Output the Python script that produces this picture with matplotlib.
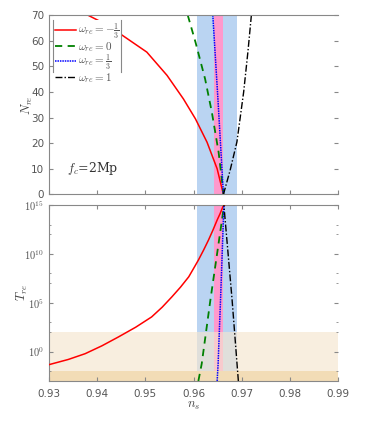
import matplotlib.pyplot as plt
from matplotlib.lines import Line2D

plt.rcParams['mathtext.fontset'] = 'cm'
plt.rcParams['font.family'] = ['DejaVu Sans']

# --- data ---
# top panel: N_re vs n_s
red_ns = [0.9381, 0.9403, 0.9448, 0.9503, 0.9545, 0.9579, 0.9604, 0.9628, 0.9649, 0.9662]
red_N = [70.0, 67.9, 62.7, 55.6, 46.5, 37.3, 29.5, 20.4, 10.0, 0.0]

green_ns = [0.9588, 0.9604, 0.9624, 0.9638, 0.9652, 0.9661, 0.9662]
green_N = [70.0, 59.5, 45.1, 32.1, 16.5, 2.2, 0.0]

blue_ns = [0.9640, 0.9651, 0.9662]
blue_N = [70.0, 36.0, 0.0]

black_ns = [0.9662, 0.9676, 0.9690, 0.9704, 0.9713, 0.9720]
black_N = [0.0, 9.5, 20.5, 40.0, 56.0, 70.0]

# bottom panel: T_re vs n_s (log10 values)
red_T_ns = [0.9300, 0.9340, 0.9375, 0.9410, 0.9444, 0.9480, 0.9513, 0.9535, 0.9555, 0.9573, 0.9590,
            0.9600, 0.9610, 0.9621, 0.9631, 0.9640, 0.9649, 0.9655, 0.9661, 0.9664]
red_logT = [-1.33, -0.80, -0.21, 0.60, 1.50, 2.50, 3.55, 4.55, 5.60, 6.60, 7.65,
            8.50, 9.36, 10.40, 11.41, 12.40, 13.46, 14.10, 14.83, 14.95]

green_T_ns = [0.9610, 0.9617, 0.9635, 0.9659, 0.9663]
green_logT = [-3.0, -1.23, 5.3, 13.46, 14.95]

blue_T_ns = [0.9649, 0.9651, 0.9656, 0.9663]
blue_logT = [-3.0, -1.23, 5.3, 14.95]

black_T_ns = [0.9693, 0.9680, 0.9663]
black_logT = [-3.0, 5.3, 14.95]

# bands
ns_band = (0.9607, 0.9690)
ns_band_inner = (0.9642, 0.9662)
T_light = (1e-2, 1e2)
T_dark = (1e-3, 1e-2)

labels = [r'$\omega_{re}=-\frac{1}{3}$', r'$\omega_{re}=0$',
          r'$\omega_{re}=\frac{1}{3}$', r'$\omega_{re}=1$']

c_red, c_green, c_blue, c_black = '#ff0000', '#008000', '#0000ff', '#000000'
spine_c = '#888888'
tick_c = '#555555'

fig = plt.figure(figsize=(3.74, 4.48), dpi=100)
ax1 = fig.add_axes([0.131, 0.566, 0.773, 0.4])
ax2 = fig.add_axes([0.131, 0.1496, 0.773, 0.3929])

# top panel
ax1.axvspan(*ns_band, color='#bad4f2', lw=0, zorder=0)
ax1.axvspan(*ns_band_inner, color='#ff99cc', lw=0, zorder=0)
ax1.plot(red_ns, red_N, color=c_red, lw=1.1, label=labels[0])
ax1.plot(green_ns, green_N, color=c_green, lw=1.3, ls=(0, (4, 3)), label=labels[1])
ax1.plot(blue_ns, blue_N, color=c_blue, lw=1.1, ls=(0, (1, 0.6)), label=labels[2])
ax1.plot(black_ns, black_N, color=c_black, lw=1.0, ls=(0, (5, 1.5, 1, 1.5)), label=labels[3])
ax1.set_xlim(0.93, 0.99)
ax1.set_ylim(0, 70)
ax1.set_yticks(range(0, 71, 10))
ax1.set_xticks([0.93, 0.94, 0.95, 0.96, 0.97, 0.98, 0.99])
ax1.tick_params(axis='x', labelbottom=False, direction='in', length=3, colors=spine_c)
ax1.tick_params(axis='y', direction='in', length=3, right=True, colors=spine_c, labelcolor=tick_c, labelsize=7.5)
ax1.set_ylabel(r'$N_{re}$', fontsize=9, color='#444444', labelpad=-3)
ax1.text(0.9337, 10, r'$f_c$=2Mp', fontsize=9, family='serif', color='#333333',
         ha='left', va='center', math_fontfamily='cm')

leg = ax1.legend(loc='upper left', bbox_to_anchor=(0.015, 0.972), frameon=True,
                 facecolor='white', edgecolor='none', framealpha=1.0, fancybox=False,
                 fontsize=8, handlelength=1.9, handletextpad=0.2, labelspacing=-0.12,
                 borderpad=0.15, borderaxespad=0.0)
for t in leg.get_texts():
    t.set_color('#555555')
# bracket-style legend frame (vertical lines only)
ax1.add_line(Line2D([0.015, 0.015], [0.684, 0.972], transform=ax1.transAxes,
                    color=spine_c, lw=0.8, zorder=6))
ax1.add_line(Line2D([0.249, 0.249], [0.684, 0.972], transform=ax1.transAxes,
                    color=spine_c, lw=0.8, zorder=6))

# bottom panel
ax2.set_yscale('log')
ax2.axvspan(*ns_band, color='#bad4f2', lw=0, zorder=0)
ax2.axvspan(*ns_band_inner, color='#ff99cc', lw=0, zorder=0)
ax2.axhspan(*T_light, color='#f5e6cf', alpha=0.65, lw=0, zorder=1)
ax2.axhspan(*T_dark, color='#f2dcb6', lw=0, zorder=1)
ax2.plot(red_T_ns, [10**v for v in red_logT], color=c_red, lw=1.1, zorder=3)
ax2.plot(green_T_ns, [10**v for v in green_logT], color=c_green, lw=1.3, ls=(0, (4, 3)), zorder=3)
ax2.plot(blue_T_ns, [10**v for v in blue_logT], color=c_blue, lw=1.1, ls=(0, (1, 0.6)), zorder=3)
ax2.plot(black_T_ns, [10**v for v in black_logT], color=c_black, lw=1.0, ls=(0, (5, 1.5, 1, 1.5)), zorder=3)
ax2.set_xlim(0.93, 0.99)
ax2.set_ylim(1e-3, 1e15)
ax2.set_yticks([1e0, 1e5, 1e10, 1e15])
ax2.set_yticks([1e-2, 1e2, 1e3, 1e7, 1e8, 1e12, 1e13], minor=True)
ax2.set_yticklabels([r'$10^{0}$', r'$10^{5}$', r'$10^{10}$', r'$10^{15}$'], minor=False)
ax2.set_yticklabels([], minor=True)
ax2.set_xticks([0.93, 0.94, 0.95, 0.96, 0.97, 0.98, 0.99])
ax2.set_xticklabels(['0.93', '0.94', '0.95', '0.96', '0.97', '0.98', '0.99'])
ax2.tick_params(axis='x', direction='in', length=3, top=True, colors=spine_c,
                labelcolor=tick_c, labelsize=7.5, pad=6)
ax2.tick_params(axis='y', which='both', direction='in', right=True, colors=spine_c,
                labelcolor=tick_c, labelsize=7.5)
ax2.tick_params(axis='y', which='major', length=3)
ax2.tick_params(axis='y', which='minor', length=1.5)
ax2.set_ylabel(r'$T_{re}$', fontsize=9, color='#444444', labelpad=-4)
ax2.set_xlabel(r'$n_s$', fontsize=9, color='#444444', labelpad=0)

for ax in (ax1, ax2):
    ax.spines['right'].set_visible(False)
    for s in ('left', 'top', 'bottom'):
        ax.spines[s].set_color(spine_c)
        ax.spines[s].set_linewidth(0.8)

fig.savefig('out.png', dpi=100)
